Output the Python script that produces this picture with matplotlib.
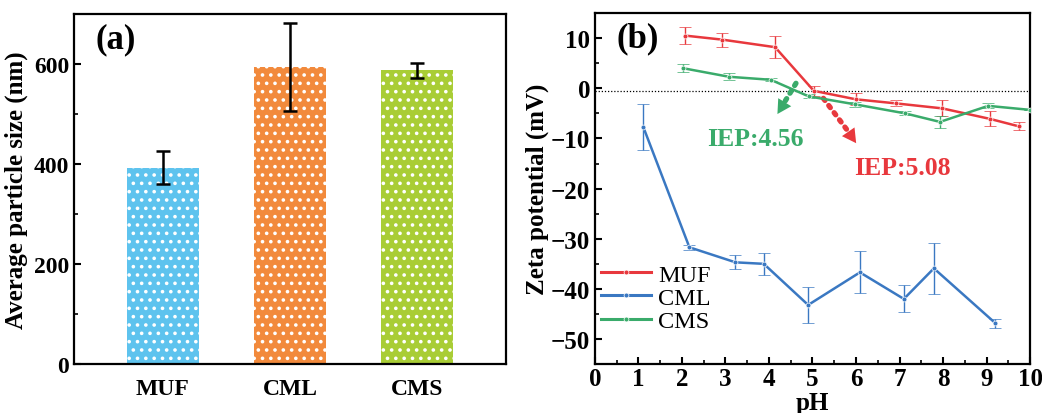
import numpy as np
import matplotlib.pyplot as plt
from matplotlib.lines import Line2D

plt.rcParams['font.family'] = ['Liberation Serif', 'DejaVu Serif']
plt.rcParams['hatch.linewidth'] = 1.4

# panel (a): average particle size
samples = ['MUF', 'CML', 'CMS']
size_nm = [393, 595, 588]
size_err = [33, 88, 15]
bar_colors = ['#5ec3ee', '#f28a3c', '#a9cd35']

# panel (b): zeta potential vs pH
muf_ph = [2.08, 2.93, 4.14, 5.03, 6.0, 6.91, 7.98, 9.08, 9.75]
muf_zeta = [10.5, 9.7, 8.2, -0.5, -2.2, -3.0, -4.0, -6.1, -7.6]
muf_err = [1.7, 1.4, 2.2, 1.0, 1.2, 0.6, 1.6, 1.5, 0.8]

cml_ph = [1.11, 2.17, 3.23, 3.88, 4.90, 6.09, 7.10, 7.79, 9.20]
cml_zeta = [-7.7, -31.7, -34.7, -35.0, -43.2, -36.7, -42.0, -35.9, -46.8]
cml_err = [4.6, 0.5, 1.4, 2.2, 3.5, 4.2, 2.7, 5.1, 0.9]

cms_ph = [2.03, 3.08, 4.04, 4.91, 5.98, 7.13, 7.93, 9.04, 10.0]
cms_zeta = [4.0, 2.3, 1.7, -1.6, -3.2, -5.0, -6.7, -3.5, -4.3]
cms_err = [0.8, 0.7, 0.3, 0.4, 0.5, 0.4, 1.2, 0.5, 0.0]

red, blue, green = '#e8383d', '#3a78c2', '#3aab6b'

fig = plt.figure(figsize=(10.42, 4.14), dpi=100)
ax1 = fig.add_axes([0.071, 0.118, 0.4146, 0.845])
ax2 = fig.add_axes([0.571, 0.118, 0.4175, 0.848])

# ---- (a) bars
x = np.arange(1, len(samples) + 1)
ax1.bar(x, size_nm, width=0.56, color=bar_colors, edgecolor='white',
        hatch='..', linewidth=0, zorder=2)
ax1.errorbar(x, size_nm, yerr=size_err, fmt='none', ecolor='black',
             elinewidth=1.8, capsize=5, capthick=1.8, zorder=4)
ax1.set_xlim(0.3, 3.7)
ax1.set_ylim(0, 700)
ax1.set_xticks(x)
ax1.set_xticklabels(samples)
ax1.set_yticks([0, 200, 400, 600])
ax1.set_yticks([100, 300, 500], minor=True)
ax1.tick_params(axis='x', length=0, pad=10, labelsize=17)
ax1.tick_params(axis='y', which='both', direction='in', labelsize=17)
ax1.tick_params(axis='y', which='major', length=5, width=1.5)
ax1.tick_params(axis='y', which='minor', length=3, width=1.2)
for lab in ax1.get_xticklabels() + ax1.get_yticklabels():
    lab.set_fontweight('bold')
ax1.set_ylabel('Average particle size (nm)', fontsize=18, fontweight='bold',
               labelpad=4)
ax1.text(0.05, 0.93, '(a)', transform=ax1.transAxes, fontsize=25,
         fontweight='bold', va='center')
for sp in ax1.spines.values():
    sp.set_linewidth(1.6)

# ---- (b) zeta potential
ax2.axhline(-0.5, color='black', linestyle=(0, (1, 1.5)), linewidth=0.9, zorder=1)
series = [(muf_ph, muf_zeta, muf_err, red, 'MUF'),
          (cml_ph, cml_zeta, cml_err, blue, 'CML'),
          (cms_ph, cms_zeta, cms_err, green, 'CMS')]
handles = []
for ph, z, e, c, name in series:
    ax2.errorbar(ph, z, yerr=e, color=c, linewidth=1.8, marker='o',
                 markersize=3.5, markerfacecolor=c, markeredgecolor='white',
                 markeredgewidth=0.5, elinewidth=1.0, capsize=4, capthick=1.0,
                 zorder=3)
    handles.append(Line2D([], [], color=c, linewidth=2.2, marker='o',
                          markersize=3.5, markerfacecolor=c,
                          markeredgecolor='white', markeredgewidth=0.5,
                          label=name))

# dotted arrows pointing out the isoelectric points
ax2.plot([4.62, 4.34], [1.0, -3.0], color=green, linewidth=3.8,
         linestyle=(0, (0.5, 1.2)), dash_capstyle='round', zorder=2)
ax2.annotate('', xy=(4.16, -5.6), xytext=(4.36, -2.8),
             arrowprops=dict(arrowstyle='-|>,head_length=1.0,head_width=0.55',
                             color=green, lw=0))
ax2.plot([5.25, 5.82], [-2.0, -8.6], color=red, linewidth=3.8,
         linestyle=(0, (0.5, 1.2)), dash_capstyle='round', zorder=2)
ax2.annotate('', xy=(6.04, -11.4), xytext=(5.80, -8.4),
             arrowprops=dict(arrowstyle='-|>,head_length=1.0,head_width=0.55',
                             color=red, lw=0))
ax2.text(3.68, -10.0, 'IEP:4.56', color=green, fontsize=18.5, fontweight='bold',
         ha='center', va='center')
ax2.text(7.07, -15.7, 'IEP:5.08', color=red, fontsize=18.5, fontweight='bold',
         ha='center', va='center')

ax2.set_xlim(0, 10)
ax2.set_ylim(-55, 15)
ax2.set_xticks(range(0, 11))
ax2.set_xticks(np.arange(0.5, 10, 1.0), minor=True)
ax2.set_yticks([-50, -40, -30, -20, -10, 0, 10])
ax2.set_yticks(np.arange(-55, 15, 10), minor=True)
ax2.tick_params(which='both', direction='in', labelsize=18)
ax2.tick_params(axis='x', pad=2)
ax2.tick_params(which='major', length=5, width=1.5)
ax2.tick_params(which='minor', length=3, width=1.2)
for lab in ax2.get_xticklabels() + ax2.get_yticklabels():
    lab.set_fontweight('bold')
ax2.set_xlabel('pH', fontsize=18, fontweight='bold', labelpad=1)
ax2.set_ylabel('Zeta potential (mV)', fontsize=18, fontweight='bold', labelpad=1)
ax2.text(0.05, 0.93, '(b)', transform=ax2.transAxes, fontsize=25,
         fontweight='bold', va='center')
ax2.legend(handles=handles, loc='lower left', bbox_to_anchor=(-0.02, 0.05),
           frameon=False, fontsize=17.5, handlelength=2.05, handletextpad=0.3,
           labelspacing=0.05, borderaxespad=0.2)
for sp in ax2.spines.values():
    sp.set_linewidth(1.6)

fig.savefig('out.png', dpi=100)
